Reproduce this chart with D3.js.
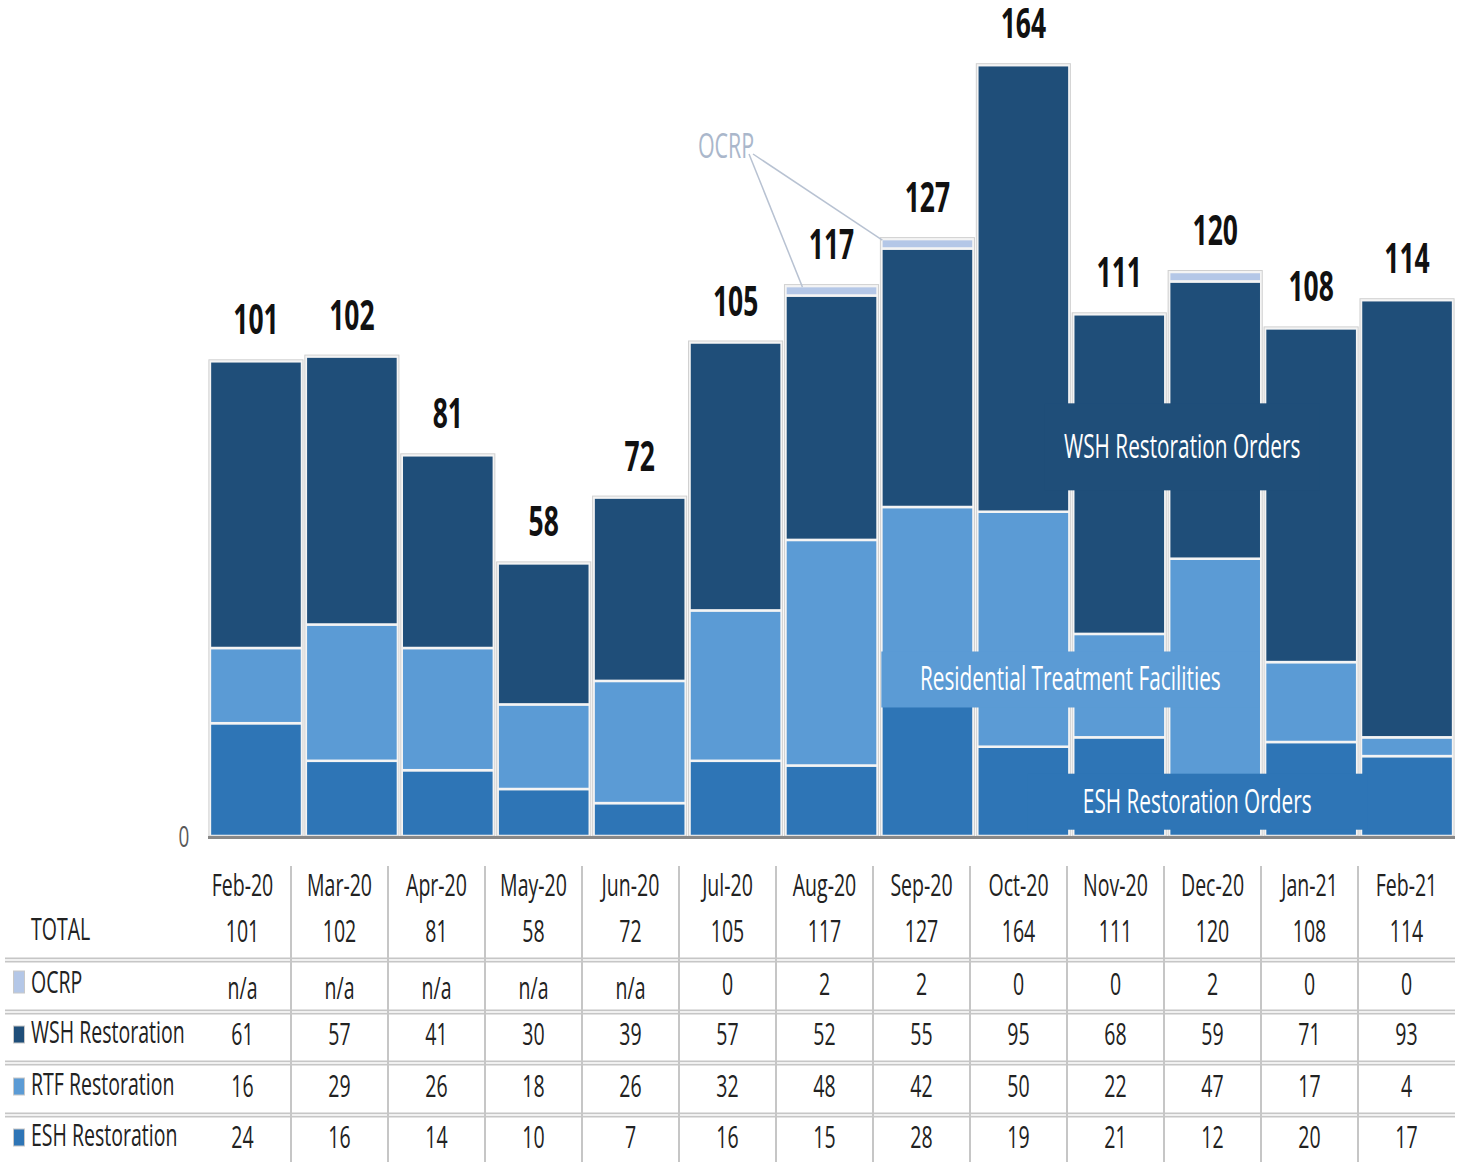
<!DOCTYPE html>
<html>
<head>
<meta charset="utf-8">
<script src="https://cdn.jsdelivr.net/npm/d3@7"></script>
<style>
  body { margin: 0; background: #fff; }
  svg { display: block; }
  text { font-family: "Open Sans", "Noto Sans", sans-serif; }
</style>
</head>
<body>
<div id="chart"></div>
<script>
(function () {
    var width = 1460,
        height = 1162;

    // data
    var months = ["Feb-20", "Mar-20", "Apr-20", "May-20", "Jun-20", "Jul-20", "Aug-20",
                  "Sep-20", "Oct-20", "Nov-20", "Dec-20", "Jan-21", "Feb-21"];
    var totals = [101, 102, 81, 58, 72, 105, 117, 127, 164, 111, 120, 108, 114];
    var ocrp = [null, null, null, null, null, 0, 2, 2, 0, 0, 2, 0, 0];
    var wsh = [61, 57, 41, 30, 39, 57, 52, 55, 95, 68, 59, 71, 93];
    var rtf = [16, 29, 26, 18, 26, 32, 48, 42, 50, 22, 47, 17, 4];
    var esh = [24, 16, 14, 10, 7, 16, 15, 28, 19, 21, 12, 20, 17];

    var colors = {
        ocrp: "#b4c7e7",
        wsh: "#1f4e79",
        rtf: "#5b9bd5",
        esh: "#2e75b6"
    };

    // the picture is squeezed sideways, so all text gets squeezed too
    var squeeze = 0.63;

    var svg = d3.select("#chart")
        .append("svg")
        .attr("width", width)
        .attr("height", height);

    function label(g, x, y, str, size, opts) {
        opts = opts || {};
        var t = g.append("g")
            .attr("transform", "translate(" + x + "," + y + ") scale(" + squeeze + ",1)")
            .append("text")
            .attr("text-anchor", opts.anchor || "middle")
            .attr("font-size", size)
            .attr("font-weight", opts.weight || 400)
            .attr("fill", opts.fill || "#1a1a1a")
            .text(str);
        return t;
    }

    var x = d3.scaleBand()
        .domain(months)
        .range([208, 1455])
        .paddingInner(0.04)
        .paddingOuter(0.02);

    var y = d3.scaleLinear()
        .domain([0, 170])
        .range([836, 836 - 170 * 4.7]);

    // stack: ESH at bottom, then RTF, WSH, OCRP on top
    var rows = months.map(function (m, i) {
        return { month: m, esh: esh[i], rtf: rtf[i], wsh: wsh[i], ocrp: ocrp[i] || 0 };
    });
    var keys = ["esh", "rtf", "wsh", "ocrp"];
    var series = d3.stack().keys(keys)(rows);

    var chart = svg.append("g");

    chart.selectAll(".series")
        .data(series)
        .enter().append("g")
        .attr("class", "series")
        .attr("fill", function (d) { return colors[d.key]; })
        .selectAll("rect")
        .data(function (d) { return d.filter(function (p) { return p[1] - p[0] > 0; }); })
        .enter().append("rect")
        .attr("x", function (d) { return x(d.data.month); })
        .attr("width", x.bandwidth())
        .attr("y", function (d) { return y(d[1]); })
        .attr("height", function (d) { return y(d[0]) - y(d[1]); })
        .attr("stroke", "#f4f4f4")
        .attr("stroke-width", 2.5);

    // light grey outline on the whole bar
    chart.selectAll(".outline")
        .data(months)
        .enter().append("rect")
        .attr("class", "outline")
        .attr("x", function (d) { return x(d) - 1; })
        .attr("width", x.bandwidth() + 2)
        .attr("y", function (d, i) { return y(totals[i]) - 1.5; })
        .attr("height", function (d, i) { return y(0) - y(totals[i]) + 1.5; })
        .attr("fill", "none")
        .attr("stroke", "#d0d0d0")
        .attr("stroke-width", 1);

    // series annotations painted on the bars
    var notes = [
        { text: "WSH Restoration Orders", month: "Dec-20", dx: -33, value: 82.8, w: 275, h: 87, fill: colors.wsh },
        { text: "Residential Treatment Facilities", month: "Oct-20", dx: 47, value: 33.3, w: 378, h: 56, fill: colors.rtf },
        { text: "ESH Restoration Orders", month: "Dec-20", dx: -18, value: 7.3, w: 340, h: 56, fill: colors.esh }
    ];
    var noteG = chart.selectAll(".note")
        .data(notes)
        .enter().append("g")
        .attr("class", "note")
        .attr("transform", function (d) {
            return "translate(" + (x(d.month) + x.bandwidth() / 2 + d.dx) + "," + y(d.value) + ")";
        });
    noteG.append("rect")
        .attr("x", function (d) { return -d.w / 2; })
        .attr("y", function (d) { return -d.h / 2; })
        .attr("width", function (d) { return d.w; })
        .attr("height", function (d) { return d.h; })
        .attr("fill", function (d) { return d.fill; });
    noteG.each(function (d) {
        label(d3.select(this), 0, 11, d.text, 33, { fill: "#ffffff" });
    });

    // total labels
    months.forEach(function (m, i) {
        label(chart, x(m) + x.bandwidth() / 2, y(totals[i]) - 27, totals[i], 42, { weight: 700, fill: "#111" });
    });

    // OCRP callout
    var ocrpAt = [726, 146];
    var leaders = [
        [x("Aug-20") + 17, y(117) + 1],
        [x("Sep-20") + 1, y(127) + 1]
    ];
    chart.selectAll(".leader")
        .data(leaders)
        .enter().append("line")
        .attr("class", "leader")
        .attr("x1", function (d, i) { return i === 0 ? ocrpAt[0] + 23 : ocrpAt[0] + 27; })
        .attr("y1", ocrpAt[1] + 8)
        .attr("x2", function (d) { return d[0]; })
        .attr("y2", function (d) { return d[1]; })
        .attr("stroke", "#b8c2d2")
        .attr("stroke-width", 1.5);
    label(chart, ocrpAt[0], ocrpAt[1] + 12, "OCRP", 34, { fill: "#aab7cb" });

    // baseline and the single y tick
    chart.append("line")
        .attr("x1", 208).attr("x2", 1455)
        .attr("y1", y(0) + 1.5).attr("y2", y(0) + 1.5)
        .attr("stroke", "#888")
        .attr("stroke-width", 3);

    var yAxis = chart.append("g")
        .attr("transform", "translate(190,0)")
        .call(d3.axisLeft(y).tickValues([0]).tickSize(0).tickFormat(d3.format("d")));
    yAxis.select(".domain").remove();
    yAxis.selectAll(".tick text").remove();
    yAxis.selectAll(".tick").each(function (d) {
        label(d3.select(this), -6, 10, d, 30, { fill: "#595959" });
    });

    // data table
    var table = svg.append("g");
    var colW = 97, col0 = 194;
    function colX(i) { return col0 + colW * i + colW / 2; }

    var tableRows = [
        { name: "TOTAL", values: totals, base: 942, swatch: null },
        { name: "OCRP", values: ocrp, base: 995, swatch: colors.ocrp },
        { name: "WSH Restoration", values: wsh, base: 1045, swatch: colors.wsh },
        { name: "RTF Restoration", values: rtf, base: 1097, swatch: colors.rtf },
        { name: "ESH Restoration", values: esh, base: 1148, swatch: colors.esh }
    ];
    var rowLines = [960, 1012, 1063, 1115];

    rowLines.forEach(function (ly) {
        [-1.6, 1.6].forEach(function (off) {
            table.append("line")
                .attr("x1", 5).attr("x2", 1455)
                .attr("y1", ly + off).attr("y2", ly + off)
                .attr("stroke", "#c6c6c6")
                .attr("stroke-width", 1.6);
        });
    });
    d3.range(1, 13).forEach(function (i) {
        table.append("line")
            .attr("x1", col0 + colW * i).attr("x2", col0 + colW * i)
            .attr("y1", 866).attr("y2", 1162)
            .attr("stroke", "#c6c6c6")
            .attr("stroke-width", 2);
    });

    months.forEach(function (m, i) {
        label(table, colX(i), 896, m, 31, { fill: "#222" });
    });

    tableRows.forEach(function (r) {
        label(table, 31, r.base - 2, r.name, 31, { anchor: "start", fill: "#222" });
        if (r.swatch) {
            table.append("rect")
                .attr("x", 13.5).attr("y", r.base - (r.name === "OCRP" ? 24 : 19))
                .attr("width", 11).attr("height", r.name === "OCRP" ? 22 : 17)
                .attr("fill", r.swatch)
                .attr("stroke", "#c8c8c8")
                .attr("stroke-width", 1);
        }
        r.values.forEach(function (v, i) {
            var isNa = v === null;
            label(table, colX(i), r.base + (isNa ? 4 : 0), isNa ? "n/a" : v, 31, { fill: "#222" });
        });
    });
})();
</script>
</body>
</html>
